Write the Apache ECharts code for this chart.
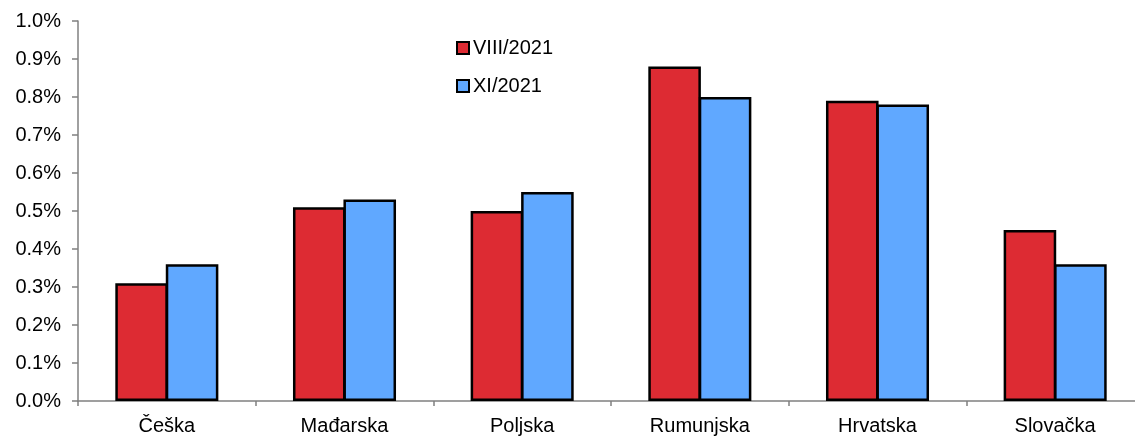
<!DOCTYPE html>
<html>
<head>
<meta charset="utf-8">
<script src="https://cdn.jsdelivr.net/npm/echarts@6/dist/echarts.min.js"></script>
<style>
  html, body { margin: 0; padding: 0; background: #fff; overflow: hidden; }
  #wrap { width: 1135px; height: 436px; overflow: hidden; }
  /* the original plot runs a little past the right edge of the picture */
  #chart { width: 1144px; height: 436px; }
</style>
</head>
<body>
<div id="wrap"><div id="chart"></div></div>
<script>
const categories = ['Češka', 'Mađarska', 'Poljska', 'Rumunjska', 'Hrvatska', 'Slovačka'];
const seriesNames = ['VIII/2021', 'XI/2021'];
const aug2021 = [0.31, 0.51, 0.50, 0.88, 0.79, 0.45];
const nov2021 = [0.36, 0.53, 0.55, 0.80, 0.78, 0.36];

const font = '"Liberation Sans", Arial, sans-serif';
const axisGray = '#808080';

const chart = echarts.init(document.getElementById('chart'));
chart.setOption({
  animation: false,
  textStyle: { fontFamily: font },
  legend: {
    orient: 'vertical',
    left: 451,
    top: 33,
    itemGap: 18,
    itemWidth: 12,
    itemHeight: 12,
    icon: 'rect',
    textStyle: { fontSize: 20, color: '#000', fontFamily: font, padding: [0, 0, 0, -1] },
    data: seriesNames
  },
  grid: { left: 78, right: 0, top: 21, bottom: 35 },
  xAxis: {
    type: 'category',
    data: categories,
    axisLine: { lineStyle: { color: axisGray, width: 1.5 } },
    axisTick: { show: true, length: 5, lineStyle: { color: axisGray, width: 1.5 } },
    axisLabel: { color: '#000', fontSize: 20, margin: 15, fontFamily: font }
  },
  yAxis: {
    type: 'value',
    min: 0,
    max: 1.0,
    interval: 0.1,
    splitLine: { show: false },
    axisLine: { show: true, lineStyle: { color: axisGray, width: 1.5 } },
    axisTick: { show: true, inside: false, length: 6, lineStyle: { color: axisGray, width: 1.5 } },
    axisLabel: {
      color: '#000',
      fontSize: 20,
      margin: 17,
      fontFamily: font,
      formatter: v => v.toFixed(1) + '%'
    }
  },
  series: [
    {
      name: seriesNames[0],
      type: 'bar',
      data: aug2021,
      barGap: '-4%',
      barCategoryGap: '42%',
      itemStyle: { color: '#dd2b33', borderColor: '#000', borderWidth: 2.5 }
    },
    {
      name: seriesNames[1],
      type: 'bar',
      data: nov2021,
      itemStyle: { color: '#60a8ff', borderColor: '#000', borderWidth: 2.5 }
    }
  ]
});
</script>
</body>
</html>
